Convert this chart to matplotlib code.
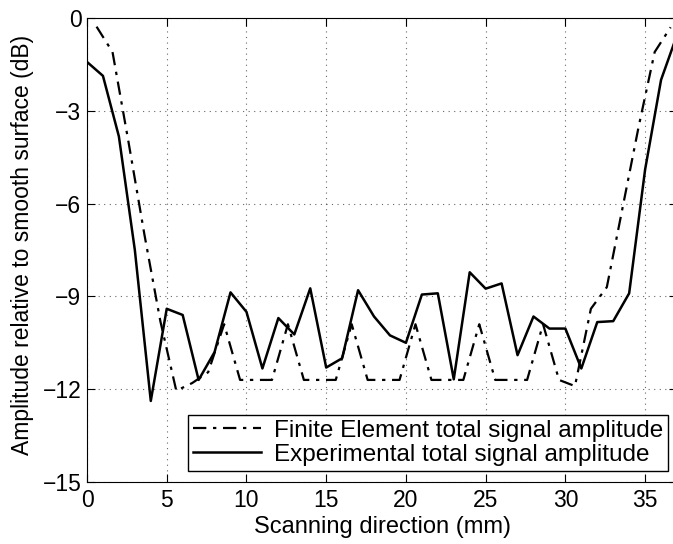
import numpy as np
import matplotlib
matplotlib.use('Agg')
import matplotlib.pyplot as plt

############################################################
# Data

# experimental scan, 1 mm steps
x_exp = list(range(0, 38))
amp_exp = [-1.42, -1.87, -3.83, -7.5, -12.38, -9.4, -9.6, -11.7, -10.8, -8.87,
           -9.5, -11.33, -9.7, -10.23, -8.74, -11.3, -11.0, -8.8, -9.65, -10.26,
           -10.5, -8.94, -8.9, -11.68, -8.22, -8.75, -8.58, -10.9, -9.65, -10.04,
           -10.04, -11.33, -9.83, -9.8, -8.9, -4.9, -2.0, -0.55]

# finite element model, offset grid
x_fe = [0.6 + k for k in range(0, 37)]
amp_fe = [-0.28, -1.1, -4.0, -7.0, -9.8, -12.05, -11.8, -11.45, -9.9, -11.7,
          -11.7, -11.7, -9.9, -11.7, -11.7, -11.7, -9.9, -11.7, -11.7, -11.7,
          -9.9, -11.7, -11.7, -11.7, -9.9, -11.7, -11.7, -11.7, -9.9, -11.7,
          -11.9, -9.4, -8.7, -6.1, -3.5, -1.1, -0.3]

############################################################
# Plotting

plt.rcParams['font.family'] = ['Liberation Sans', 'DejaVu Sans']

fig = plt.figure(figsize=(6.73, 5.44), dpi=100)
ax = fig.add_axes([87/673, 1 - 482/544, 590/673, 464/544])

ax.plot(x_fe, amp_fe, color='k', linestyle=(0, (6, 3, 1.5, 3)), linewidth=1.6,
        label='Finite Element total signal amplitude')
ax.plot(x_exp, amp_exp, color='k', linestyle='-', linewidth=1.8,
        label='Experimental total signal amplitude')

ax.set_xlim(0, 37)
ax.set_ylim(-15, 0)
ax.set_xticks(np.arange(0, 36, 5))
ax.set_yticks(np.arange(-15, 1, 3))
ax.tick_params(direction='in', length=6, labelsize=16.5, top=True, right=True)
ax.tick_params(axis='x', pad=5)
ax.tick_params(axis='y', pad=4)
ax.grid(True, color='k', linestyle=(0, (1, 4)), linewidth=0.8, alpha=0.6)

ax.set_xlabel('Scanning direction (mm)', fontsize=17)
ax.xaxis.set_label_coords((382 - 87)/590, -(527 - 482)/464)
ax.set_ylabel('Amplitude relative to smooth surface (dB)', fontsize=16.5)
ax.yaxis.set_label_coords(-(87 - 22)/590, (482 - 245)/464)
ax.xaxis.label.set_va('center')
ax.yaxis.label.set_va('center')

leg = ax.legend(loc='lower right', bbox_to_anchor=(0.985, 0.024), borderaxespad=0,
                fontsize=17.5, fancybox=False, edgecolor='k', framealpha=1,
                handlelength=2.8, handletextpad=0.55, borderpad=0.2, labelspacing=0.1)
leg.get_frame().set_linewidth(1.0)

fig.savefig('out.png', dpi=100)
